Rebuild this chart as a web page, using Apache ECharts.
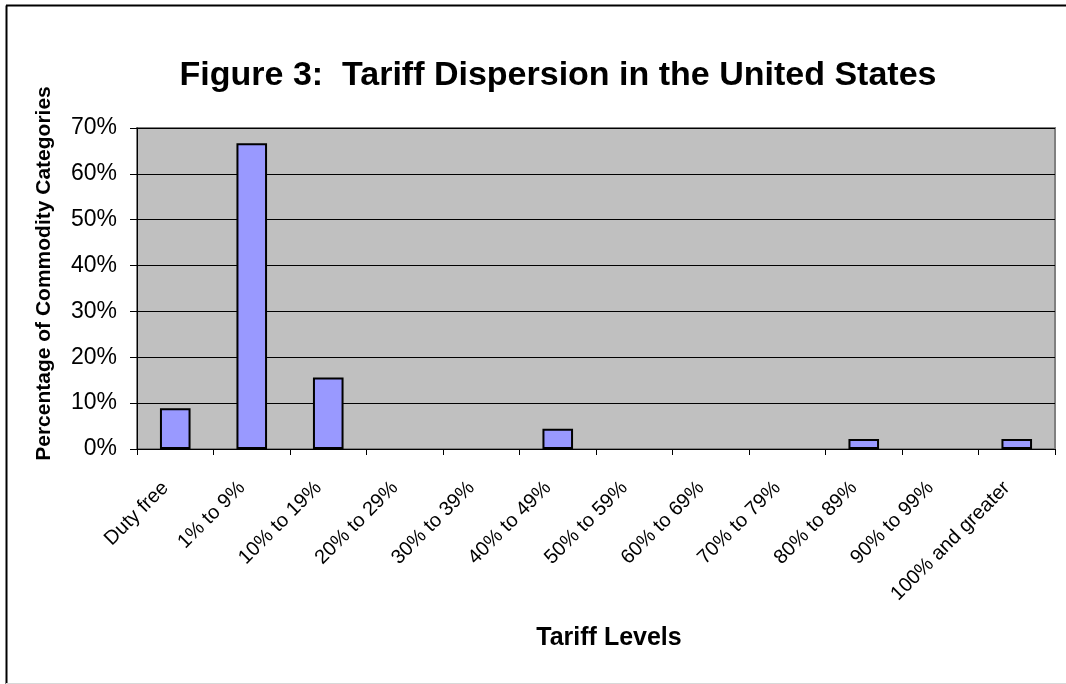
<!DOCTYPE html>
<html>
<head>
<meta charset="utf-8">
<title>Tariff Dispersion in the United States</title>
<script src="https://cdn.jsdelivr.net/npm/echarts@6/dist/echarts.min.js"></script>
<style>
  html, body { margin: 0; padding: 0; background: #ffffff; }
  #chart { width: 1066px; height: 684px; }
</style>
</head>
<body>
<div id="chart"></div>
<script>
// Tariff bands (categories) and share of commodity categories in each band (%)
const tariffLevels = [
  'Duty free', '1% to 9%', '10% to 19%', '20% to 29%', '30% to 39%', '40% to 49%',
  '50% to 59%', '60% to 69%', '70% to 79%', '80% to 89%', '90% to 99%', '100% and greater'
];
const shareOfCategories = [8.9, 66.7, 15.6, 0, 0, 4.4, 0, 0, 0, 2.2, 0, 2.2];
const yTicks = { min: 0, max: 70, interval: 10 };

const chart = echarts.init(document.getElementById('chart'), null, { renderer: 'canvas' });
const font = 'Arial, "Liberation Sans", sans-serif';

// empty bands keep their value but get no outline sitting on the axis
const barData = shareOfCategories.map(v => ({
  value: v,
  itemStyle: v === 0 ? { borderWidth: 0 } : undefined
}));

chart.setOption({
  backgroundColor: '#ffffff',
  animation: false,
  title: {
    text: 'Figure 3:  Tariff Dispersion in the United States',
    left: 553,
    top: 54,
    textAlign: 'center',
    textStyle: { fontFamily: font, fontSize: 34, fontWeight: 'bold', color: '#000' }
  },
  graphic: [
    // outer frame of the chart area
    { type: 'line', shape: { x1: 6.5, y1: 5.5, x2: 6.5, y2: 684 }, style: { stroke: '#000', lineWidth: 2 } },
    { type: 'line', shape: { x1: 6, y1: 5.5, x2: 1066, y2: 5.5 }, style: { stroke: '#000', lineWidth: 2 } },
    { type: 'line', shape: { x1: 6, y1: 683.5, x2: 1066, y2: 683.5 }, style: { stroke: '#d8d8d8', lineWidth: 1 } }
  ],
  grid: {
    left: 137, right: 11, top: 128, bottom: 235,
    show: true,
    backgroundColor: '#c0c0c0',
    borderColor: '#808080',
    borderWidth: 2
  },
  xAxis: {
    type: 'category',
    data: tariffLevels,
    boundaryGap: true,
    name: 'Tariff Levels',
    nameLocation: 'middle',
    nameGap: 177,
    nameTextStyle: {
      fontFamily: font, fontSize: 25, fontWeight: 'bold', color: '#000',
      padding: [0, 0, 0, 26]
    },
    axisLine: { show: true, lineStyle: { color: '#000', width: 1 } },
    axisTick: { show: true, length: 6, inside: false, alignWithLabel: false, lineStyle: { color: '#000' } },
    axisLabel: {
      interval: 0,
      rotate: 45,
      margin: 26,
      padding: [0, 14, 0, 0],
      fontFamily: font,
      fontSize: 20,
      color: '#000'
    },
    splitLine: { show: false }
  },
  yAxis: {
    type: 'value',
    min: yTicks.min,
    max: yTicks.max,
    interval: yTicks.interval,
    name: 'Percentage of Commodity Categories',
    nameLocation: 'middle',
    nameGap: 82,
    nameRotate: 90,
    nameTextStyle: {
      fontFamily: font, fontSize: 21, fontWeight: 'bold', color: '#000',
      padding: [0, 0, 0, 30]
    },
    axisLine: { show: true, lineStyle: { color: '#000', width: 1 } },
    axisTick: { show: true, length: 7, inside: false, lineStyle: { color: '#000' } },
    axisLabel: {
      formatter: '{value}%',
      margin: 20,
      fontFamily: font,
      fontSize: 23,
      color: '#000'
    },
    splitLine: { show: true, lineStyle: { color: '#000', width: 1 } }
  },
  series: [{
    type: 'bar',
    data: barData,
    barWidth: '40%',
    itemStyle: { color: '#9999ff', borderColor: '#000', borderWidth: 2 },
    silent: true
  }]
});
</script>
</body>
</html>
